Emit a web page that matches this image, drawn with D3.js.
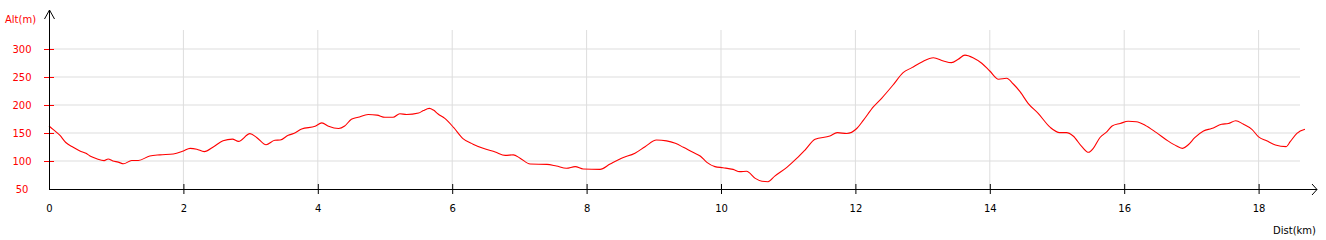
<!DOCTYPE html>
<html><head><meta charset="utf-8">
<script src="https://cdn.jsdelivr.net/npm/d3@7"></script>
<style>html,body{margin:0;padding:0;background:#fff}svg{display:block}text{font-family:"DejaVu Sans",Verdana,sans-serif;font-size:10px}</style>
</head><body><svg id="c" width="1326" height="240"></svg>
<script>
const distKm = [0,0.06,0.16,0.25,0.36,0.46,0.55,0.61,0.71,0.82,0.88,0.95,1.03,1.11,1.23,1.33,1.5,1.65,1.85,2.0,2.1,2.2,2.31,2.45,2.59,2.73,2.82,2.99,3.09,3.23,3.36,3.44,3.56,3.64,3.76,3.96,4.06,4.16,4.31,4.40,4.5,4.6,4.75,4.88,5.0,5.12,5.22,5.32,5.5,5.57,5.66,5.72,5.79,5.89,6.02,6.16,6.31,6.46,6.64,6.79,6.91,7.01,7.16,7.41,7.55,7.70,7.83,7.95,8.2,8.35,8.52,8.72,8.87,9.04,9.19,9.32,9.44,9.59,9.69,9.79,9.91,10.03,10.18,10.28,10.38,10.51,10.61,10.70,10.80,10.98,11.13,11.25,11.40,11.62,11.73,11.87,12.02,12.12,12.27,12.39,12.56,12.71,12.84,12.99,13.16,13.31,13.43,13.53,13.63,13.75,13.88,14.0,14.13,14.25,14.35,14.45,14.57,14.72,14.90,15.04,15.14,15.24,15.37,15.47,15.54,15.64,15.74,15.82,15.94,16.06,16.18,16.31,16.48,16.65,16.78,16.87,16.95,17.05,17.18,17.30,17.45,17.55,17.66,17.77,17.90,18.0,18.12,18.25,18.41,18.47,18.57,18.69];
const altM = [162.5,156.6,146,133,124.5,118,113.7,109,104,100.6,103.6,100,98,95,101,101,109,111,112.5,118,122.6,121,116.7,125.6,136,139,135,148.8,142,129,137,137.5,146,149,157,162,168,162,158,162.5,174.5,178,183,182,178,178,184.5,183,185.7,190,194,191,184,176,160,140,130,122.6,116,110,111,105,94.6,94,91,87,90,85.7,85,94.6,105,114,125.6,137.5,136,131.6,124.5,115,109,97.6,90,88,85,81,81.6,69,63.7,63,73,88.7,105,119.6,138.7,144.6,150.6,149,158,173,197,212,235.7,257.7,266.7,277,284.5,278.6,275.6,281.6,289,284.5,274.5,260.7,246,247.7,237.5,223.8,203,185,160,150.6,150.6,144.6,125.6,115.5,122.6,142,152,162.5,167,171,170,164,150.6,136,126.8,122.6,128.6,141.6,153.6,158,165.5,167,172,166,156.6,143,136,128.6,125.6,134.5,149.4,156.6];
const xTicks = [0,2,4,6,8,10,12,14,16,18];
const yTicks = [50,100,150,200,250,300];
const xLabel = "Dist(km)";
const yLabel = "Alt(m)";

const svg = d3.select("#c");
const x = d3.scaleLinear().domain([0,18]).range([49,1258.6]);
const y = d3.scaleLinear().domain([50,300]).range([189,49]);

// horizontal grid
svg.append("g").selectAll("line").data(yTicks.filter(d=>d>50)).join("line")
  .attr("x1",49).attr("x2",1300).attr("y1",d=>y(d)).attr("y2",d=>y(d))
  .attr("stroke","#dddddd").attr("stroke-width",1);
// vertical grid
svg.append("g").selectAll("line").data(xTicks.filter(d=>d>0)).join("line")
  .attr("x1",d=>x(d)).attr("x2",d=>x(d)).attr("y1",30).attr("y2",189)
  .attr("stroke","#dddddd").attr("stroke-width",1);

// line
const line = d3.line().x((d,i)=>x(distKm[i])).y(d=>y(d)).curve(d3.curveMonotoneX);
svg.append("path").datum(altM).attr("d",line).attr("fill","none").attr("stroke","#ff0000").attr("stroke-width",1.1);

// x axis
const xAxis = d3.axisBottom(x).tickValues(xTicks).tickSize(5).tickSizeOuter(0).tickFormat(d3.format("d"));
const gx = svg.append("g").attr("transform","translate(0,189)").call(xAxis);
gx.select(".domain").remove();
gx.selectAll(".tick line").attr("y1",-5).attr("y2",5).attr("stroke","#000");
gx.selectAll(".tick text").attr("y",20).attr("dy","0.32em").attr("fill","#000")
  .style("font-family","DejaVu Sans, Verdana, sans-serif").style("font-size","10px");
gx.selectAll(".tick").filter(d=>d===0).select("line").remove();
svg.append("line").attr("x1",49).attr("x2",1317).attr("y1",189.5).attr("y2",189.5).attr("stroke","#000");
svg.append("path").attr("d","M1312,184L1317,189.5L1312,195").attr("fill","none").attr("stroke","#000");

// y axis
const yAxis = d3.axisLeft(y).tickValues(yTicks).tickSize(5).tickSizeOuter(0);
const gy = svg.append("g").attr("transform","translate(49,0)").call(yAxis);
gy.select(".domain").remove();
gy.selectAll(".tick line").attr("x1",-5).attr("x2",5).attr("stroke","#ff0000");
gy.selectAll(".tick").filter(d=>d===50).select("line").remove();
gy.selectAll(".tick text").attr("x",-27).attr("text-anchor","middle").attr("fill","#ff0000")
  .style("font-family","DejaVu Sans, Verdana, sans-serif").style("font-size","10px");
svg.append("line").attr("x1",49.5).attr("x2",49.5).attr("y1",10).attr("y2",189.5).attr("stroke","#000");
svg.append("path").attr("d","M44.5,19L49.5,10L54.5,19").attr("fill","none").attr("stroke","#000");

svg.append("text").attr("x",20.5).attr("y",19).attr("dy","0.35em").attr("text-anchor","middle").attr("fill","#ff0000").text(yLabel);
svg.append("text").attr("x",1316).attr("y",230).attr("dy","0.35em").attr("text-anchor","end").attr("fill","#000").text(xLabel);
</script></body></html>
